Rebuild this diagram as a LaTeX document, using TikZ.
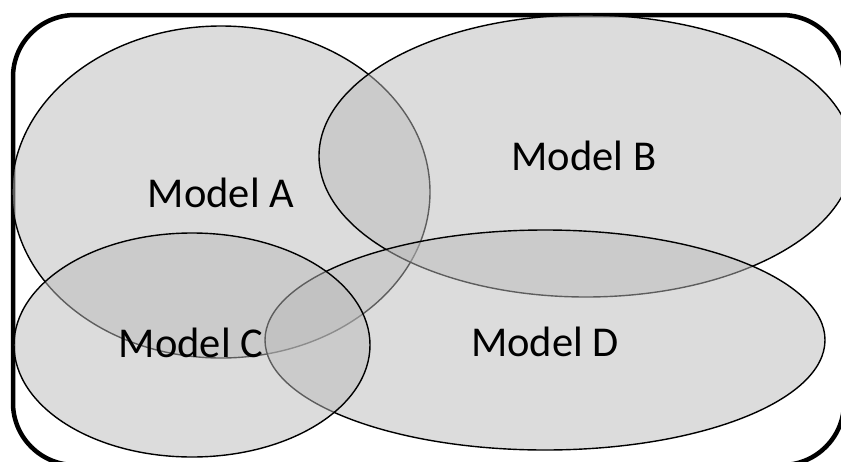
\documentclass[tikz,border=0pt]{standalone}
\usepackage{fontspec}
\setmainfont{Carlito}
\begin{document}
\begin{tikzpicture}[x=1pt,y=-1pt,
  setbox/.style={fill=fillgray,fill opacity=0.5,draw=black,draw opacity=1,line width=1.4pt},
  lbl/.style={font=\fontsize{42.5}{50}\selectfont,text=black,inner sep=0pt,anchor=center}]
\definecolor{fillgray}{HTML}{BBBBBB}
\useasboundingbox (0,0) rectangle (841,461);
\clip (0,0) rectangle (841,461);
\fill[white] (0,0) rectangle (841,461);
% frame
\draw[line width=4.5pt,rounded corners=62pt] (13,15) rectangle (844,465);
% sets (drawing order A, B, D, C)
\path[setbox] (221,192) ellipse [x radius=209, y radius=166];
\path[setbox] (586,156) ellipse [x radius=267, y radius=141];
\path[setbox] (545,340) ellipse [x radius=280, y radius=110];
\path[setbox] (192,345) ellipse [x radius=178, y radius=112];
% labels
\node[lbl] (la) at (221,193) {Model A};
\node[lbl] (lb) at (584,156) {Model B};
\node[lbl] (ld) at (545,342) {Model D};
\node[lbl] (lc) at (191,343) {Model C};
\end{tikzpicture}
\end{document}
